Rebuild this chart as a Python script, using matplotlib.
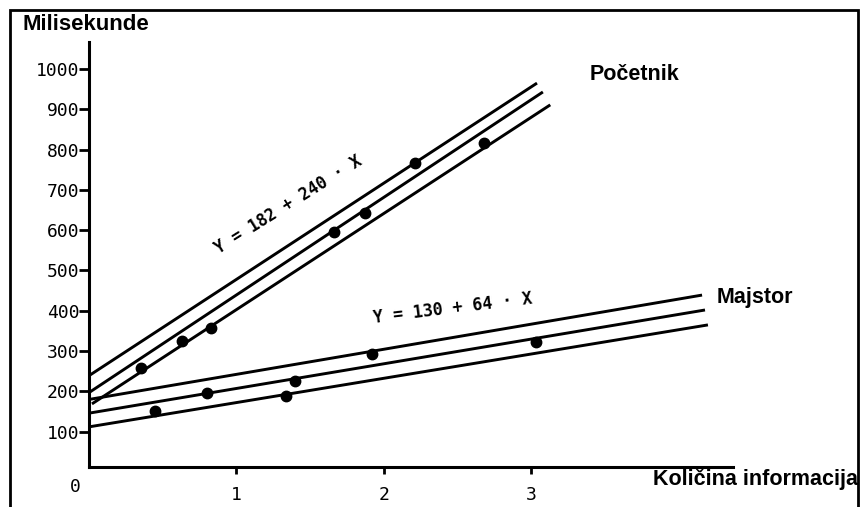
import matplotlib
matplotlib.use("Agg")
import matplotlib.pyplot as plt
from matplotlib.patches import Rectangle

# measured points (reaction time in ms vs. amount of information)
pocetnik_x = [0.35, 0.63, 0.83, 1.66, 1.87, 2.21, 2.68]
pocetnik_y = [257, 326, 358, 595, 643, 767, 816]
majstor_x = [0.45, 0.80, 1.34, 1.40, 1.92, 3.03]
majstor_y = [152, 195, 189, 226, 294, 323]

# fitted line with its two bounds: (x start, x end), (y start, y end)
pocetnik_lines_x = [(0.0, 3.04), (0.0, 3.08), (0.02, 3.13)]
pocetnik_lines_y = [(239, 965), (197, 943), (169, 911)]
majstor_lines_x = [(0.0, 4.16), (0.0, 4.18), (0.0, 4.20)]
majstor_lines_y = [(180, 439), (146, 402), (112, 365)]

y_ticks = [100, 200, 300, 400, 500, 600, 700, 800, 900, 1000]
x_ticks = [1, 2, 3]

W, H = 864, 507
fig = plt.figure(figsize=(W / 100, H / 100), dpi=100)
ax = fig.add_axes([89 / W, 1 - 467 / H, (733 - 89) / W, (467 - 42) / H])

mono = "DejaVu Sans Mono"
bold = dict(family="Liberation Sans", weight="bold", fontsize=15.5)

for xs, ys in zip(pocetnik_lines_x, pocetnik_lines_y):
    ax.plot(xs, ys, color="black", lw=2.1, solid_capstyle="butt", clip_on=False)
for xs, ys in zip(majstor_lines_x, majstor_lines_y):
    ax.plot(xs, ys, color="black", lw=2.1, solid_capstyle="butt", clip_on=False)

ax.plot(pocetnik_x, pocetnik_y, "o", color="black", ms=7.5, clip_on=False)
ax.plot(majstor_x, majstor_y, "o", color="black", ms=7.5, clip_on=False)

ax.set_xlim(0, 4.37)
ax.set_ylim(12.4, 1067)

for side in ["top", "right"]:
    ax.spines[side].set_visible(False)
for side in ["left", "bottom"]:
    ax.spines[side].set_linewidth(2.2)

ax.set_yticks(y_ticks)
ax.set_yticklabels([str(v) for v in y_ticks], family=mono, fontsize=13)
ax.set_xticks(x_ticks)
ax.set_xticklabels([str(v) for v in x_ticks], family=mono, fontsize=13)
ax.tick_params(axis="y", length=7, width=2, pad=0)
ax.tick_params(axis="x", length=5, width=2, pad=9)

# equations along the lines
ax.text(1.35, 663, "Y = 182 + 240 · X", family=mono, fontsize=12, weight="bold",
        rotation=32, ha="center", va="center", rotation_mode="anchor")
ax.text(2.47, 407, "Y = 130 + 64 · X", family=mono, fontsize=12, weight="bold",
        rotation=7, ha="center", va="center", rotation_mode="anchor")

# series and axis labels
fig.text(590 / W, 1 - 75 / H, "Početnik", ha="left", va="center", **bold)
fig.text(717 / W, 1 - 297 / H, "Majstor", ha="left", va="center", **bold)
fig.text(22 / W, 1 - 24 / H, "Milisekunde", ha="left", va="center",
         family="Liberation Sans", weight="bold", fontsize=16)
fig.text(858 / W, 1 - 480 / H, "Količina informacija", ha="right", va="center", **bold)
fig.text(75 / W, 1 - 487 / H, "0", family=mono, fontsize=13, ha="center", va="center")

# outer frame of the scanned figure
fig.patches.append(Rectangle((10 / W, -0.05), (858 - 10) / W, 1.05 - 10 / H,
                             transform=fig.transFigure, fill=False,
                             edgecolor="black", lw=2))

fig.savefig("out.png", dpi=100)
